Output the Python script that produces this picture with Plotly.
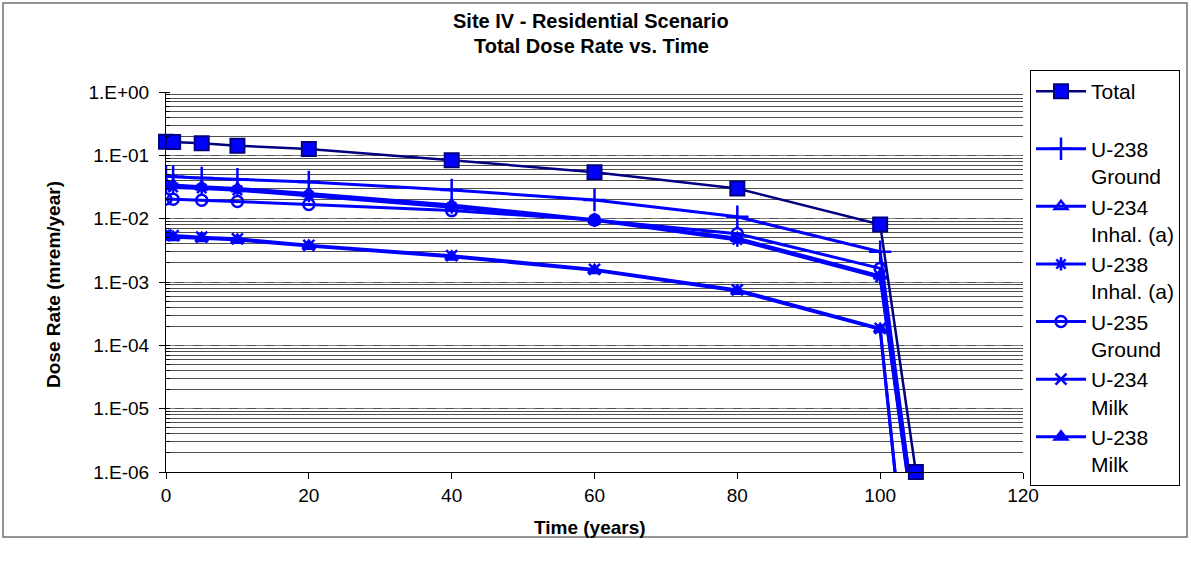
import plotly.graph_objects as go

# === DATA ===
time_years = [0, 1, 5, 10, 20, 40, 60, 80, 100, 105]

total = [0.164, 0.163, 0.155, 0.142, 0.126, 0.084, 0.054, 0.030, 0.0081, 1.0e-6]
u238_ground = [0.047, 0.046, 0.044, 0.042, 0.038, 0.0284, 0.0197, 0.0107, 0.0030, 1.3e-7]
u234_inhal = [0.035, 0.034, 0.032, 0.030, 0.025, 0.0164, 0.0096, 0.0049, 0.00125, 1.0e-7]
u238_inhal = [0.032, 0.031, 0.030, 0.028, 0.023, 0.0152, 0.0094, 0.0046, 0.00118, 9.0e-8]
u235_ground = [0.0205, 0.0203, 0.0195, 0.0186, 0.0168, 0.0134, 0.0095, 0.0058, 0.00164, 1.6e-7]
u234_milk = [0.0055, 0.0054, 0.0051, 0.0048, 0.0038, 0.0026, 0.00158, 0.00075, 0.000185, 7.0e-10]
u238_milk = [0.0052, 0.0051, 0.0049, 0.0046, 0.0037, 0.0025, 0.00153, 0.00072, 0.000179, 6.5e-10]

series_names = ["U-238<br>Ground", "U-234<br>Inhal. (a)", "U-238<br>Inhal. (a)",
                "U-235<br>Ground", "U-234<br>Milk", "U-238<br>Milk"]
series_values = [u238_ground, u234_inhal, u238_inhal, u235_ground, u234_milk, u238_milk]
series_symbols = ["cross-thin-open", "triangle-up-open", "asterisk-open",
                  "circle-open", "x-thin-open", "triangle-up"]

y_tickvals = [1e0, 1e-1, 1e-2, 1e-3, 1e-4, 1e-5, 1e-6]
y_ticktext = ["1.E+00", "1.E-01", "1.E-02", "1.E-03", "1.E-04", "1.E-05", "1.E-06"]
x_tickvals = [0, 20, 40, 60, 80, 100, 120]

BLUE = "#0000FF"
NAVY = "#000080"
FONT = "Arial, Liberation Sans, sans-serif"

# геометрия области построения (px)
L, R, T, B = 166, 1023, 92, 472
PW, PH = R - L, B - T


def px(x):
    return (x - L) / PW


def py(y):
    return (B - y) / PH


fig = go.Figure()

# компоненты
for i, (name, vals, sym) in enumerate(zip(series_names, series_values, series_symbols)):
    fig.add_trace(go.Scatter(
        x=time_years, y=vals, name=name, mode="lines+markers",
        line=dict(color=BLUE, width=3),
        marker=dict(symbol=sym, size=11 if "cross" not in sym else 16,
                    color=BLUE, line=dict(color=BLUE, width=2.5)),
        legendrank=i + 2,
    ))

# суммарная доза — поверх
fig.add_trace(go.Scatter(
    x=time_years, y=total, name="Total<br> ", mode="lines+markers",
    line=dict(color=NAVY, width=2.5),
    marker=dict(symbol="square", size=14, color=BLUE, line=dict(color=NAVY, width=2)),
    cliponaxis=False, legendrank=1,
))


def label(text, x, y, size, angle=0):
    return dict(text=text, x=px(x), y=py(y), xref="paper", yref="paper",
                xanchor="center", yanchor="middle", textangle=angle,
                showarrow=False, font=dict(size=size))


fig.update_layout(
    width=1191, height=561,
    margin=dict(l=L, r=1191 - R, t=T, b=561 - B, autoexpand=False),
    paper_bgcolor="white", plot_bgcolor="white",
    font=dict(family=FONT, size=19, color="black"),
    showlegend=True,
    legend=dict(x=px(1030), xanchor="left", y=py(70), yanchor="top",
                bordercolor="black", borderwidth=1, bgcolor="white",
                font=dict(size=21, family=FONT), itemwidth=50,
                tracegroupgap=0, valign="top", maxheight=520),
    xaxis=dict(range=[0, 120], tickvals=x_tickvals, showgrid=False, zeroline=False,
               showline=True, linecolor="black", linewidth=1, automargin=False,
               ticks="outside", ticklen=6, tickcolor="black"),
    yaxis=dict(type="log", range=[-6, 0], tickvals=y_tickvals, ticktext=y_ticktext,
               showline=True, linecolor="black", linewidth=1, zeroline=False,
               automargin=False, ticks="outside", ticklen=6, tickcolor="black",
               ticklabelstandoff=6,
               showgrid=True, gridcolor="#808080", griddash="dash", gridwidth=1,
               minor=dict(dtick="D1", showgrid=True, gridcolor="#505050", gridwidth=1,
                          griddash="solid", ticks="inside", ticklen=4, tickcolor="black")),
    annotations=[
        label("<b>Site IV - Residential Scenario</b>", 591, 21, 20),
        label("<b>Total Dose Rate vs. Time</b>", 591, 46, 20),
        label("<b>Time (years)</b>", 590, 527, 19),
        label("<b>Dose Rate (mrem/year)</b>", 53, 284, 19, angle=-90),
    ],
    shapes=[dict(type="rect", xref="paper", yref="paper",
                 x0=px(3), x1=px(1187), y0=py(537), y1=py(3),
                 line=dict(color="#707070", width=1.5), layer="below")],
)

fig.write_html("out.html", config={"displayModeBar": False},
               post_script="document.body.style.margin='0';")
